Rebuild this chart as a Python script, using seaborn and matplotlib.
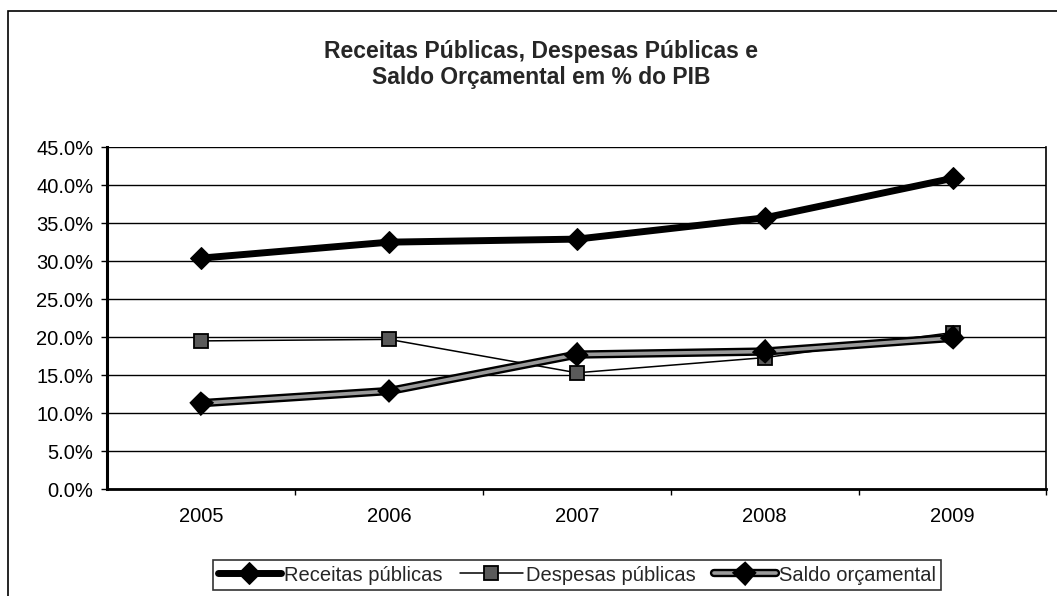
import pandas as pd
import matplotlib.pyplot as plt
import matplotlib.patheffects as pe
from matplotlib.patches import Rectangle
from matplotlib.ticker import PercentFormatter, FixedLocator
import seaborn as sns

# data (% of GDP)
years = ["2005", "2006", "2007", "2008", "2009"]
receitas = [30.4, 32.5, 32.9, 35.7, 40.9]
despesas = [19.5, 19.7, 15.3, 17.3, 20.6]
saldo = [11.3, 12.9, 17.7, 18.1, 19.9]

df = pd.DataFrame({"idx": range(len(years)), "Ano": years,
                   "Receitas públicas": receitas,
                   "Despesas públicas": despesas,
                   "Saldo orçamental": saldo})

sns.set_theme(style="white")
plt.rcParams['font.family'] = ['Liberation Sans', 'DejaVu Sans']

fig = plt.figure(figsize=(10.57, 5.96), dpi=100)
ax = fig.add_axes([0.1015, 0.1795, 0.8885, 0.5735])

sns.lineplot(data=df, x="idx", y="Receitas públicas", ax=ax, color="black",
             linewidth=5, marker="D", markersize=11, markeredgecolor="black",
             label="Receitas públicas")
sns.lineplot(data=df, x="idx", y="Despesas públicas", ax=ax, color="black",
             linewidth=1.1, marker="s", markersize=10, markerfacecolor="#5a5a5a",
             markeredgecolor="black", markeredgewidth=1.3,
             label="Despesas públicas")
sns.lineplot(data=df, x="idx", y="Saldo orçamental", ax=ax, color="#9a9a9a",
             linewidth=2.6, marker="D", markersize=6.5, markerfacecolor="black",
             markeredgecolor="black",
             path_effects=[pe.Stroke(linewidth=6, foreground="black"), pe.Normal()],
             label="Saldo orçamental")

ax.set_xlim(-0.5, len(years) - 0.5)
ax.set_ylim(0, 45)
ax.set_yticks(range(0, 50, 5))
ax.yaxis.set_major_formatter(PercentFormatter(decimals=1))
ax.set_xticks(range(len(years)))
ax.set_xticklabels(years)
ax.xaxis.set_minor_locator(FixedLocator([i + 0.5 for i in range(len(years))]))
ax.tick_params(axis="x", which="major", length=0, pad=13, labelsize=14.5, colors="black")
ax.tick_params(axis="x", which="minor", length=4, width=1, bottom=True, color="black")
ax.tick_params(axis="y", length=4, width=1, left=True, labelsize=14.5, colors="black", pad=6)
ax.set_xlabel("")
ax.set_ylabel("")
ax.grid(axis="y", color="black", linewidth=1)
ax.set_axisbelow(True)
ax.spines["right"].set_color("black")
ax.spines["right"].set_linewidth(1.2)
ax.spines["bottom"].set_color("black")
ax.spines["bottom"].set_linewidth(2)
ax.spines["left"].set_color("black")
ax.spines["left"].set_linewidth(2.2)
ax.spines["top"].set_visible(False)

ax.legend_.remove()
h, l = ax.get_legend_handles_labels()
leg = fig.legend(h, l, loc="center", bbox_to_anchor=(0.546, 0.0352), ncol=3,
                 frameon=True, fancybox=False, edgecolor="black", fontsize=14.5,
                 handlelength=3.1, handletextpad=0.15, columnspacing=0.9,
                 borderpad=0.25, borderaxespad=0)
leg.get_frame().set_linewidth(1.2)

fig.text(0.512, 0.892, "Receitas Públicas, Despesas Públicas e\nSaldo Orçamental em % do PIB",
         ha="center", va="center", fontsize=16.5, fontweight="bold", linespacing=1.2)

fig.patches.append(Rectangle((8 / 1057, -0.1), 1.2, 1.1 - 11 / 596, transform=fig.transFigure,
                             fill=False, edgecolor="black", linewidth=1.2))

fig.savefig("out.png", dpi=100)
